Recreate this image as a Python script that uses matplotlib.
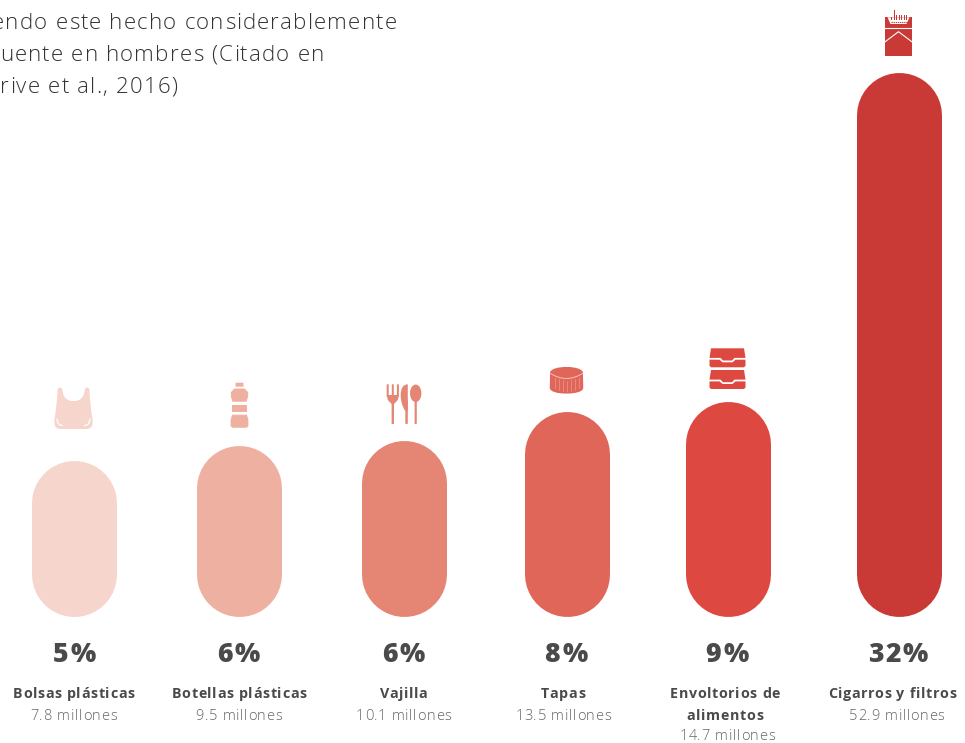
import matplotlib
matplotlib.use("Agg")
import matplotlib.pyplot as plt
from matplotlib.font_manager import findfont, get_font
from matplotlib.ft2font import LoadFlags
from matplotlib.patches import Ellipse, PathPatch, Polygon, Rectangle, FancyBboxPatch
from matplotlib.path import Path
from matplotlib.text import Text
from matplotlib.transforms import IdentityTransform

W, H = 965, 743

# Plastic litter categories, smallest to largest
categories = ["Bolsas plásticas", "Botellas plásticas", "Vajilla", "Tapas",
              "Envoltorios de\nalimentos", "Cigarros y filtros"]
percentages = ["5%", "6%", "6%", "8%", "9%", "32%"]
millions = [7.8, 9.5, 10.1, 13.5, 14.7, 52.9]
bar_colors = ["#F6D5CC", "#EEB0A0", "#E58675", "#E0665A", "#DD4941", "#C93A36"]
intro_lines = ["endo este hecho considerablemente", "uente en hombres (Citado en",
               "rive et al., 2016)"]

# Layout constants, in pixels
centers = [74, 239, 404, 566.5, 727.5, 898.5]
pct_x = [74, 238.8, 403.7, 566, 727, 898]
name_x = [73.5, 239, 403.5, 563, 725, 892]
value_x = [73.5, 238.8, 403.5, 563, 727, 896.7]
value_base = [720, 720, 720, 720, 739.5, 720]
intro_pos = [(-8, 29.3), (0, 61), (0, 92.7)]
pill_w = 85
px_per_million = 8.6
zero_px = 570
start_value = -0.42


class TrackedText(Text):
    """Single text artist laid out with extra letter spacing (pixels)."""

    def __init__(self, *args, tracking=0.0, **kwargs):
        super().__init__(*args, **kwargs)
        self._tracking = tracking

    def _char_advances(self):
        prop = self.get_fontproperties()
        font = get_font(findfont(prop))
        font.set_size(prop.get_size_in_points(), self.get_figure().dpi)
        return [font.load_char(ord(ch), flags=LoadFlags.NO_HINTING).linearHoriAdvance / 65536
                + self._tracking for ch in self.get_text()]

    def get_window_extent(self, renderer=None, dpi=None):
        box = super().get_window_extent(renderer, dpi)
        extra = sum(self._char_advances()) - box.width
        left = extra / 2 if self.get_ha() == "center" else 0
        return box.from_extents(box.x0 - left, box.y0, box.x1 + extra - left, box.y1)

    def draw(self, renderer):
        advances = self._char_advances()
        x, y = self.get_transform().transform(self.get_unitless_position())
        if self.get_ha() == "center":
            x -= (sum(advances) - self._tracking) / 2
        for ch, adv in zip(self.get_text(), advances):
            if ch != " ":
                glyph = Text(x, y, ch, color=self.get_color(), va="baseline", ha="left",
                             fontproperties=self.get_fontproperties(),
                             transform=IdentityTransform(), clip_on=False)
                glyph.set_figure(self.get_figure())
                glyph.draw(renderer)
            x += adv


fig = plt.figure(figsize=(W / 100, H / 100), dpi=100, facecolor="white")

# Bars: y axis in millions of items, x axis in pixels
ax = fig.add_axes([0, 0, 1, 1])
ax.set_xlim(0, W)
ax.set_ylim((zero_px - H) / px_per_million, zero_px / px_per_million)
ax.axis("off")
for cx, v, c in zip(centers, millions, bar_colors):
    ax.plot([cx, cx], [start_value, v], color=c, lw=pill_w * 72 / 100,
            solid_capstyle="round")

# Overlay in pixel coordinates for icons and text
ov = fig.add_axes([0, 0, 1, 1])
ov.set_xlim(0, W)
ov.set_ylim(H, 0)
ov.axis("off")
ov.patch.set_alpha(0)

MOVE, LINE, C3, C4, CLOSE = Path.MOVETO, Path.LINETO, Path.CURVE3, Path.CURVE4, Path.CLOSEPOLY


def rrect(x0, y0, x1, y1, r, color):
    ov.add_patch(FancyBboxPatch((x0 + r, y0 + r), x1 - x0 - 2 * r, y1 - y0 - 2 * r,
                                boxstyle=f"round,pad={r},rounding_size={r}",
                                fc=color, ec="none"))


def stroke(points, codes, color="white", lw=0.9):
    ov.add_patch(PathPatch(Path(points, codes), fc="none", ec=color, lw=lw, capstyle="round"))


def bag_icon(cx, color):
    cx -= 0.5
    steps = [(MOVE, (-16, 391)),
             (C3, (-16, 387.5)), (C3, (-13.5, 387.5)),
             (C3, (-11, 387.5)), (C3, (-11, 391)),
             (C4, (-10, 399)), (C4, (-5, 401)), (C4, (0, 401)),
             (C4, (5, 401)), (C4, (10, 399)), (C4, (11, 391)),
             (C3, (11, 387.5)), (C3, (13.5, 387.5)),
             (C3, (16, 387.5)), (C3, (16, 391)),
             (C3, (16.5, 405)), (C3, (19, 419)),
             (C3, (20.5, 429)), (C3, (13, 429)),
             (LINE, (-13, 429)),
             (C3, (-20.5, 429)), (C3, (-19, 419)),
             (C3, (-16.5, 405)), (C3, (-16, 391))]
    verts = [(cx + d, y) for _, (d, y) in steps]
    ov.add_patch(PathPatch(Path(verts, [c for c, _ in steps]), fc=color, ec="none"))
    stroke([(cx - 8, 397), (cx, 404), (cx + 8, 397)], [MOVE, C3, C3])
    stroke([(cx - 16.5, 419), (cx - 16, 425.5), (cx - 11, 425.5)], [MOVE, C3, C3])
    stroke([(cx + 16.5, 419), (cx + 16, 425.5), (cx + 11, 425.5)], [MOVE, C3, C3])


def bottle_icon(cx, color):
    cx += 0.5
    rrect(cx - 4, 382.7, cx + 4, 386.7, 0.6, color)
    top = [(cx - 5, 389), (cx + 5, 389), (cx + 8.2, 392.5), (cx + 8.2, 396), (cx + 6.7, 401.2),
           (cx - 6.7, 401.2), (cx - 8.2, 396), (cx - 8.2, 392.5)]
    ov.add_patch(Polygon(top, closed=True, fc=color, ec=color, lw=0.7, joinstyle="round"))
    ov.add_patch(Rectangle((cx - 7.2, 405), 14.4, 6.7, fc=color, ec="none"))
    low = [(cx - 7, 415.2), (cx + 7, 415.2), (cx + 8.4, 420), (cx + 8.4, 426),
           (cx + 7, 427.2), (cx - 7, 427.2), (cx - 8.4, 426), (cx - 8.4, 420)]
    ov.add_patch(Polygon(low, closed=True, fc=color, ec=color, lw=0.7, joinstyle="round"))


def cutlery_icon(cx, color):
    # fork
    fx = cx - 11.2
    for dx in (-6.1, -1, 4.1):
        rrect(fx + dx, 384.3, fx + dx + 2, 397, 0.5, color)
    ov.add_patch(Polygon([(fx - 6.1, 395), (fx + 6.1, 395), (fx + 5, 400), (fx + 1.2, 404),
                          (fx - 1.2, 404), (fx - 5, 400)], closed=True, fc=color, ec="none"))
    rrect(fx - 1.2, 402, fx + 1.2, 424, 0.8, color)
    # knife
    kx = cx + 0.3
    verts = [(kx + 3.5, 384.3), (kx - 3.6, 384.3), (kx - 3.6, 395), (kx - 3.6, 404), (kx + 1, 411),
             (kx + 3.5, 411), (kx + 3.5, 384.3)]
    ov.add_patch(PathPatch(Path(verts, [MOVE, C3, C3, C3, C3, LINE, LINE]), fc=color, ec="none"))
    rrect(kx + 1, 400, kx + 3.5, 424, 0.8, color)
    # spoon
    sx = cx + 11.7
    ov.add_patch(Ellipse((sx, 393.3), 11.4, 17.5, fc=color, ec="none"))
    rrect(sx - 1.1, 398, sx + 1.1, 424, 0.8, color)


def cap_icon(cx, color):
    verts = [(cx - 16.5, 373), (cx - 16.5, 364.9), (cx + 16.5, 364.9), (cx + 16.5, 373),
             (cx + 16.7, 388), (cx + 16.7, 395.5), (cx - 16.7, 395.5), (cx - 16.7, 388),
             (cx - 16.5, 373)]
    codes = [MOVE, C4, C4, C4, LINE, C4, C4, C4, LINE]
    ov.add_patch(PathPatch(Path(verts, codes), fc=color, ec="none"))
    stroke([(cx - 16, 373.5), (cx, 383.5), (cx + 16, 373.5)], [MOVE, C3, C3], "#F3C3BB", 0.7)
    for dx in (-12, -8, -4, 0, 4, 8, 12):
        drop = 5 * (1 - (dx / 16) ** 2)
        ov.plot([cx + dx, cx + dx], [375.5 + drop, 386 + drop], color="#EE9E94", lw=0.45)


def box_icon(cx, color):
    for top in (348.3, 370):
        lid = [(cx - 16.5, top), (cx + 16.5, top), (cx + 18, top + 9.6), (cx + 7, top + 9.6),
               (cx + 4.5, top + 12.2), (cx - 4.5, top + 12.2), (cx - 7, top + 9.6), (cx - 18, top + 9.6)]
        ov.add_patch(Polygon(lid, closed=True, fc=color, ec="none"))
        base = [(cx - 18, top + 11.4), (cx - 8, top + 11.4), (cx - 5, top + 14), (cx + 5, top + 14),
                (cx + 8, top + 11.4), (cx + 18, top + 11.4), (cx + 18, top + 17.5), (cx + 16.5, top + 19),
                (cx - 16.5, top + 19), (cx - 18, top + 17.5)]
        ov.add_patch(Polygon(base, closed=True, fc=color, ec="none"))


def pack_icon(cx, color):
    ov.add_patch(Rectangle((cx - 13.3, 17.3), 26.6, 38.7, fc=color, ec="none"))
    ov.add_patch(Polygon([(cx - 11, 17.3), (cx + 11, 17.3), (cx + 8, 24), (cx - 8, 24)],
                         closed=True, fc="white", ec="none"))
    for dx, t in zip((-7.5, -5, -2.5, 0, 2.5, 5, 7.5), (16.5, 10, 15, 15, 15, 15, 15)):
        ov.add_patch(Rectangle((cx + dx, t), 1.1, 19.5 - t, fc=color, ec="none"))
    ov.plot([cx - 8, cx + 8], [22, 22], color=color, lw=0.8, ls=(0, (1.2, 0.7)))
    ov.plot([cx - 13.3, cx + 13.3], [28.3, 28.3], color="white", lw=0.8)
    ov.plot([cx - 13.3, cx, cx + 13.3], [41.7, 31.7, 41.7], color="white", lw=0.8)


for draw, cx, c in zip((bag_icon, bottle_icon, cutlery_icon, cap_icon, box_icon, pack_icon),
                       centers, bar_colors):
    draw(cx, c)


def label(x, y, s, tracking, **kw):
    ov.add_artist(TrackedText(x, y, s, tracking=tracking, va="baseline",
                              family="Open Sans", transform=ov.transData, **kw))


# Per-category labels
ink = "#4A4A4A"
soft = "#666666"
for i, (pct, name, v) in enumerate(zip(percentages, categories, millions)):
    label(pct_x[i], 662.3, pct, 2.0, ha="center", weight="heavy", fontsize=19.2, color=ink)
    for j, part in enumerate(name.split("\n")):
        label(name_x[i], 698.3 + 22 * j, part, 0.65, ha="center", weight="bold",
              fontsize=10.3, color=ink)
    label(value_x[i], value_base[i], f"{v} millones", 0.7, ha="center", weight="light",
          fontsize=10.5, color=soft)

# Running text in the upper left corner
for (x, y), line in zip(intro_pos, intro_lines):
    label(x, y, line, 1.2, ha="left", weight="light", fontsize=16, color="#333333")

fig.savefig("out.png", dpi=100)
